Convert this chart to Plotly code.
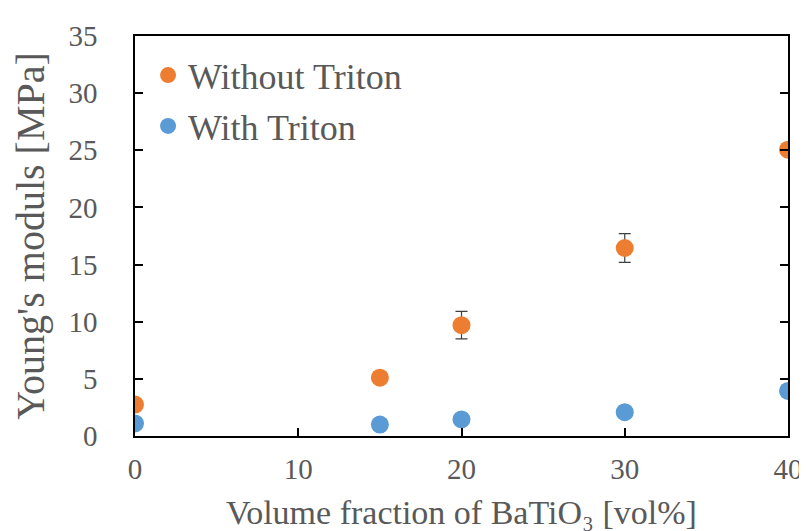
import plotly.graph_objects as go

x_vals = [0, 15, 20, 30, 40]
without_triton = [2.75, 5.1, 9.7, 16.45, 25.05]
without_err = [0.0, 0.0, 1.2, 1.25, 0.0]
with_triton = [1.1, 1.0, 1.45, 2.08, 3.94]

x_title = "Volume fraction of BaTiO₃ [vol%]"
y_title = "Young's moduls [MPa]"

orange = "#ED7D31"
blue = "#5B9BD5"
gray = "#595959"
font_family = "Liberation Serif"

fig = go.Figure()
fig.add_trace(go.Scatter(
    x=x_vals, y=without_triton, mode="markers", name="Without Triton",
    legendgroup="a",
    marker=dict(color=orange, size=18),
    error_y=dict(type="data", array=without_err, visible=True, color="#404040",
                 thickness=1.2, width=6),
))
fig.add_trace(go.Scatter(
    x=x_vals, y=with_triton, mode="markers", name="With Triton",
    legendgroup="b",
    marker=dict(color=blue, size=18),
))

fig.add_annotation(
    text=x_title, xref="paper", yref="paper", x=0.5, y=-0.242,
    xanchor="center", yanchor="bottom", showarrow=False,
    font=dict(size=34, color=gray, family=font_family),
)

fig.update_layout(
    width=807, height=531,
    margin=dict(l=123, r=20, t=24, b=103),
    paper_bgcolor="white", plot_bgcolor="white",
    font=dict(family=font_family, color=gray),
    showlegend=True,
    legend=dict(x=0.02, y=0.977, xanchor="left", yanchor="top",
                font=dict(size=36, color=gray, family=font_family),
                bgcolor="rgba(0,0,0,0)", itemsizing="trace",
                tracegroupgap=1),
    xaxis=dict(
        range=[0, 40], tickvals=[0, 10, 20, 30, 40],
        ticks="inside", ticklen=8, tickwidth=1.5, tickcolor="black",
        showline=True, linecolor="black", linewidth=1.5, mirror=True,
        showgrid=False, zeroline=False,
        ticklabelstandoff=6,
        tickfont=dict(size=29, color=gray, family=font_family),
    ),
    yaxis=dict(
        range=[0, 35], tickvals=[0, 5, 10, 15, 20, 25, 30, 35],
        ticks="inside", ticklen=8, tickwidth=1.5, tickcolor="black",
        showline=True, linecolor="black", linewidth=1.5, mirror="ticks",
        showgrid=False, zeroline=False,
        ticklabelstandoff=30,
        tickfont=dict(size=29, color=gray, family=font_family),
        title=dict(text=y_title,
                   font=dict(size=40, color=gray, family=font_family),
                   standoff=20),
    ),
)

fig.write_html("out.html")
